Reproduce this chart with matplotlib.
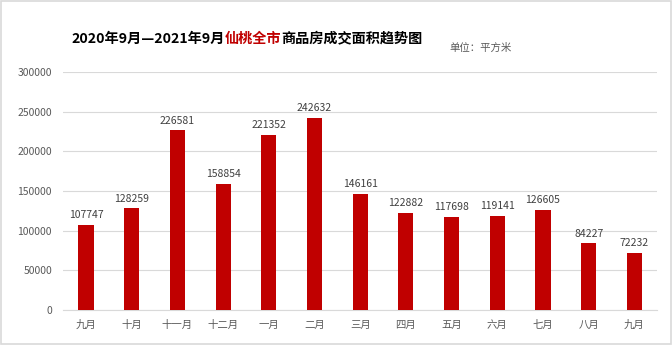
import matplotlib
matplotlib.use("Agg")
import matplotlib.pyplot as plt
from matplotlib.patches import Rectangle

plt.rcParams['font.family'] = ['Noto Sans CJK SC', 'DejaVu Sans']

months = ["九月", "十月", "十一月", "十二月", "一月", "二月", "三月",
          "四月", "五月", "六月", "七月", "八月", "九月"]
area = [107747, 128259, 226581, 158854, 221352, 242632, 146161,
        122882, 117698, 119141, 126605, 84227, 72232]
yticks = [0, 50000, 100000, 150000, 200000, 250000, 300000]

bar_color = "#c00000"

fig = plt.figure(figsize=(6.72, 3.45), dpi=100)
fig.patches.append(Rectangle((0.0015, 0.003), 0.997, 0.994, transform=fig.transFigure,
                             fill=False, edgecolor="#d9d9d9", linewidth=1.2))

ax = fig.add_axes([0.094, 0.101, 0.884, 0.690])
x = list(range(len(months)))
ax.bar(x, area, width=0.33, color=bar_color, zorder=3)
for xi, v in zip(x, area):
    ax.text(xi, v + 6000, str(v), ha="center", va="bottom",
            fontsize=7.5, color="#404040")

ax.set_xlim(-0.5, len(months) - 0.5)
ax.set_ylim(0, 300000)
ax.set_yticks(yticks)
ax.set_yticklabels([str(t) for t in yticks])
ax.set_xticks(x)
ax.set_xticklabels(months)
ax.tick_params(axis="both", length=0, labelsize=7.5, labelcolor="#595959")
ax.tick_params(axis="y", pad=8)
ax.tick_params(axis="x", pad=7)
ax.grid(axis="y", color="#d9d9d9", linewidth=0.8, zorder=0)
for side in ["top", "right", "left"]:
    ax.spines[side].set_visible(False)
ax.spines["bottom"].set_color("#d9d9d9")

# Title drawn in three pieces so the place name can be red
parts = [("2020年9月—2021年9月", "black"), ("仙桃全市", bar_color),
         ("商品房成交面积趋势图", "black")]
fig.canvas.draw()
renderer = fig.canvas.get_renderer()
texts = []
for s, c in parts:
    t = fig.text(0, 0.888, s, color=c, fontsize=10.2, fontweight="bold",
                 ha="left", va="center")
    texts.append(t)
widths = [t.get_window_extent(renderer).width for t in texts]
total = sum(widths)
start = 247 - total / 2
for t, w in zip(texts, widths):
    t.set_x(start / fig.bbox.width)
    start += w

fig.text(0.762, 0.862, "单位：平方米", fontsize=7.5, color="#595959",
         ha="right", va="center")

fig.savefig("out.png", dpi=100)
